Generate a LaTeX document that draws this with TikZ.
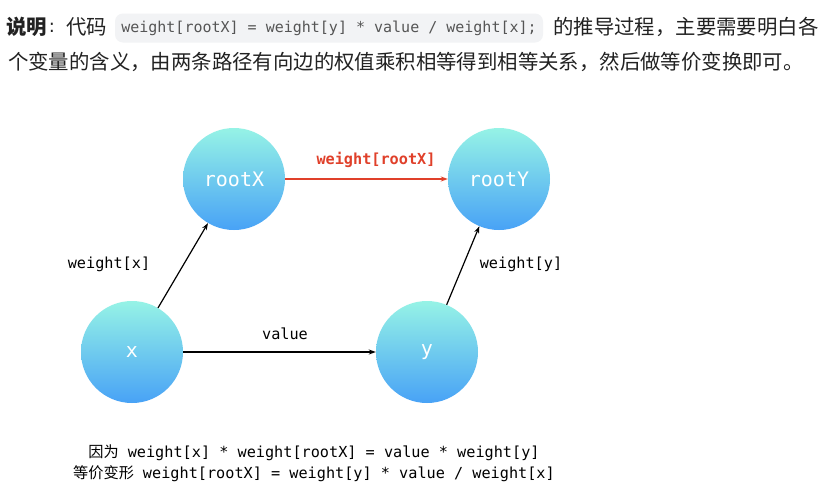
\documentclass[tikz,border=0pt]{standalone}
\usepackage{fontspec}
\setmainfont{Noto Sans CJK SC}
\newfontfamily\cjk{Noto Sans CJK SC}
\newfontfamily\mono{DejaVu Sans Mono}
\newfontfamily\latsans{DejaVu Sans}
\usetikzlibrary{arrows.meta}
\definecolor{topc}{HTML}{96F3E6}
\definecolor{botc}{HTML}{48A2F6}
\definecolor{redc}{HTML}{E0402A}
\definecolor{codebg}{HTML}{F2F3F5}
\definecolor{codefg}{HTML}{555555}
\definecolor{txt}{HTML}{222222}
\tikzset{
  vnode/.style={circle, minimum size=102pt, inner sep=0pt, top color=topc, bottom color=botc, draw=none, text=white, font=\mono\fontsize{20}{24}\selectfont},
  elabel/.style={font=\mono\fontsize{15.2}{18}\selectfont, text=black, inner sep=0pt},
  conn/.style={line width=1.2pt, -{Stealth[length=7pt,width=5pt]}},
  head/.style={anchor=west, inner sep=0pt, text=txt, font=\cjk\fontsize{20.4}{24}\selectfont}
}
\begin{document}
\begin{tikzpicture}[x=1pt,y=-1pt]
\useasboundingbox (0,0) rectangle (828,501);
\fill[white] (0,0) rectangle (828,501);
% header
\node[head] (h1) at (6,27) {\textbf{说明}};
\node[inner sep=0pt, text=txt, font=\latsans\fontsize{18}{22}\selectfont] (colon) at (52,28) {:};
\node[head] (h2) at (66,27) {代码};
\node[fill=codebg, rounded corners=8pt, minimum width=428pt, minimum height=29pt, inner sep=0pt, text=codefg, font=\mono\fontsize{15}{18}\selectfont] (code) at (329,28) {weight[rootX] = weight[y] * value / weight[x];};
\node[head] (h3) at (553,27) {的推导过程，主要需要明白各};
\node[head] (h4) at (8,62) {个变量的含义，由两条路径有向边的权值乘积相等得到相等关系，然后做等价变换即可。};
% nodes
\node[vnode] (rx) at (234,179) {rootX};
\node[vnode] (ry) at (499,179) {rootY};
\node[vnode] (x) at (132,352) {x};
\node[vnode] (y) at (427,352) {y};
% edges
\draw[conn, draw=redc, fill=redc] (rx) -- (ry);
\draw[conn] (x) -- (rx);
\draw[conn] (y) -- (ry);
\draw[conn] (x) -- (y);
% labels
\node[elabel, text=redc, font=\mono\bfseries\fontsize{15.2}{18}\selectfont] (lr) at (376,160) {weight[rootX]};
\node[elabel] (lx) at (109,264) {weight[x]};
\node[elabel] (ly) at (521,264) {weight[y]};
\node[elabel] (lv) at (285,334) {value};
% bottom
\node[elabel, align=center, font=\fontsize{15.2}{21}\selectfont] (bottom) at (314,463) {{\cjk 因为}\hspace{9pt}{\mono weight[x] * weight[rootX] = value * weight[y]}\\{\cjk 等价变形}\hspace{9pt}{\mono weight[rootX] = weight[y] * value / weight[x]}};
\end{tikzpicture}
\end{document}
